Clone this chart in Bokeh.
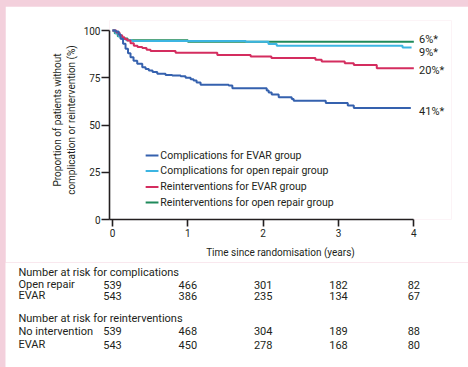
from bokeh.plotting import figure
from bokeh.models import Range1d, FixedTicker, Label, ColumnDataSource
from bokeh.core.properties import value
from bokeh.layouts import column
from bokeh.embed import file_html
from bokeh.resources import INLINE

# Kaplan-Meier style step data (time in years, % free of event)
evar_comp_t = [0, 0.04, 0.08, 0.106, 0.14, 0.173, 0.206, 0.239, 0.279, 0.328, 0.395, 0.439, 0.482,
               0.532, 0.594, 0.704, 0.793, 0.904, 0.970, 1.037, 1.076, 1.116, 1.169, 1.542, 1.591,
               2.047, 2.073, 2.113, 2.206, 2.379, 2.405, 2.831, 3.123, 3.203, 3.96]
evar_comp_v = [100, 99.5, 98, 95.6, 93, 90.3, 88, 85.9, 84, 82.4, 80.6, 79.6, 78.8,
               78, 77.1, 76.5, 76.2, 75.8, 75.0, 74.2, 73.5, 72.5, 71.3, 70.9, 69.5,
               68.3, 67.2, 66.1, 64.7, 63.8, 62.8, 61.7, 60.3, 59.0, 59.0]

open_comp_t = [0, 0.04, 0.08, 0.12, 0.18, 0.26, 1.77, 2.07, 2.18, 3.85, 3.97]
open_comp_v = [100, 98.5, 97, 95.5, 94.8, 94.5, 94.0, 92.8, 92.0, 91.0, 91.0]

evar_reint_t = [0, 0.05, 0.093, 0.129, 0.159, 0.195, 0.239, 0.283, 0.332, 0.395, 0.452, 0.505,
                0.837, 1.391, 1.834, 2.109, 2.694, 2.777, 3.083, 3.203, 3.508, 4.0]
evar_reint_v = [100, 99, 97.5, 96.5, 95.5, 94.7, 93.3, 92, 91.3, 90.7, 89.8, 89.1,
                88.2, 87.1, 86.2, 85.5, 84.5, 83.6, 82.7, 81.8, 80.0, 80.0]

open_reint_t = [0, 0.03, 0.07, 0.12, 0.2, 1.0, 4.0]
open_reint_v = [100, 98.5, 97, 95.8, 94.8, 94.0, 94.0]

end_labels = ["6%*", "9%*", "20%*", "41%*"]
end_label_y = [95.2, 88.4, 78.8, 57.1]

legend_names = ["Complications for EVAR group", "Complications for open repair group",
                "Reinterventions for EVAR group", "Reinterventions for open repair group"]

x_ticks = [0, 1, 2, 3, 4]
y_ticks = [0, 25, 50, 75, 100]

risk_headers = ["Number at risk for complications", "Number at risk for reinterventions"]
risk_rows = ["Open repair", "EVAR", "No intervention", "EVAR"]
risk_comp_open = [539, 466, 301, 182, 82]
risk_comp_evar = [543, 386, 235, 134, 67]
risk_reint_none = [539, 468, 304, 189, 88]
risk_reint_evar = [543, 450, 278, 168, 80]

BLUE = "#3561ae"
CYAN = "#3cb5e2"
RED = "#d42d5f"
GREEN = "#1f8a5b"
INK = "#231f20"
PINK = "#f3d0dc"
FONT = "Roboto"

X0, X1 = -0.04, 4.5
FRAME_W = 342
LEFT_PAD, RIGHT_PAD = 104, 17

p = figure(frame_width=FRAME_W, frame_height=199, margin=(6, 0, 0, 5),
           x_range=Range1d(X0, X1), y_range=Range1d(0, 105.3),
           min_border_left=LEFT_PAD, min_border_right=RIGHT_PAD,
           min_border_top=14, min_border_bottom=43,
           output_backend="svg", toolbar_location=None, background_fill_color="white",
           border_fill_color="white")
p.outline_line_color = None
p.grid.grid_line_color = None

for ax in (p.xaxis[0], p.yaxis[0]):
    ax.axis_line_color = INK
    ax.axis_line_width = 1.6
    ax.major_tick_line_color = INK
    ax.major_tick_line_width = 1.6
    ax.major_tick_in = 0
    ax.minor_tick_line_color = None
    ax.major_label_text_font = FONT
    ax.major_label_text_font_size = "10px"
    ax.major_label_text_color = INK
    ax.axis_label_text_font = FONT
    ax.axis_label_text_font_size = "10px"
    ax.axis_label_text_font_style = "normal"
    ax.axis_label_text_color = INK

p.xaxis.ticker = FixedTicker(ticks=x_ticks)
p.yaxis.ticker = FixedTicker(ticks=y_ticks)
p.xaxis.bounds = (-0.04, 4)
p.yaxis.bounds = (0, 100)
p.xaxis.major_tick_out = 7
p.yaxis.major_tick_out = 8
p.xaxis.major_label_standoff = 2
p.yaxis.major_label_standoff = 1
p.xaxis.axis_label = "Time since randomisation (years)"
p.xaxis.axis_label_standoff = 7
p.yaxis.axis_label = "Proportion of patients without\ncomplication or reintervention (%)"
p.yaxis.axis_label_standoff = 4

# survival curves
p.step(open_reint_t, open_reint_v, mode="after", line_color=GREEN, line_width=2)
p.step(open_comp_t, open_comp_v, mode="after", line_color=CYAN, line_width=2)
p.step(evar_reint_t, evar_reint_v, mode="after", line_color=RED, line_width=2)
p.step(evar_comp_t, evar_comp_v, mode="after", line_color=BLUE, line_width=2)

def txt(x, y, s, size="10px", align="left"):
    p.add_layout(Label(x=x, y=y, text=s, text_font=FONT, text_font_size=size,
                       text_color=INK, text_align=align, text_baseline="middle"))

# end-of-curve percentages
for s, y in zip(end_labels, end_label_y):
    txt(4.07, y, s, size="11px")

# legend
legend_y = [33.9, 25.7, 17.2, 9.0]
for name, col, y in zip(legend_names, [BLUE, CYAN, RED, GREEN], legend_y):
    p.segment(x0=[0.44], y0=[y], x1=[0.61], y1=[y], line_color=col, line_width=2)
    txt(0.635, y, name, size="10.5px")

# numbers-at-risk table, sharing the time scale of the plot above
scale = FRAME_W / (X1 - X0)
tx0 = X0 - LEFT_PAD / scale
tx1 = X1 + RIGHT_PAD / scale
t = figure(frame_width=FRAME_W + LEFT_PAD + RIGHT_PAD, frame_height=105, margin=(0, 0, 0, 5),
           x_range=Range1d(tx0, tx1), y_range=Range1d(105, 0),
           min_border_left=0, min_border_right=0, min_border_top=0, min_border_bottom=0,
           x_axis_type=None, y_axis_type=None,
           output_backend="svg", toolbar_location=None,
           background_fill_color="white", border_fill_color="white")
t.outline_line_color = None
t.grid.grid_line_color = None

left = -1.249
head_y = [10, 56]
row_y = [22, 33, 68.5, 82]
t.text(x=[left, left], y=head_y, text=risk_headers, text_font=value(FONT),
       text_font_size="11px", text_color=INK, text_baseline="middle")
t.text(x=[left] * 4, y=row_y, text=risk_rows, text_font=value(FONT),
       text_font_size="11px", text_color=INK, text_baseline="middle")

nx, ny, nt = [], [], []
for row, y in zip([risk_comp_open, risk_comp_evar, risk_reint_none, risk_reint_evar], row_y):
    for xt, n in zip(x_ticks, row):
        nx.append(xt)
        ny.append(y)
        nt.append(str(n))
t.text(x="x", y="y", text="t", source=ColumnDataSource(dict(x=nx, y=ny, t=nt)),
       text_font=value(FONT), text_font_size="11px", text_color=INK,
       text_align="center", text_baseline="middle")

# two independent roots so the table's frame is not aligned to the plot's frame
top = column(p, styles={"background-color": PINK})
bottom = column(t, styles={"background-color": PINK})
open("out.html", "w").write(file_html([top, bottom], INLINE))
